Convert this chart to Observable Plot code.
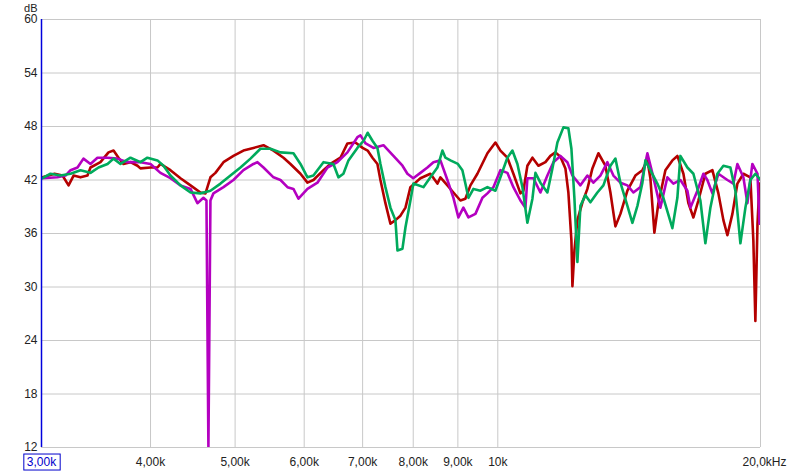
<!DOCTYPE html>
<html>
<head>
<meta charset="utf-8">
<script src="https://cdn.jsdelivr.net/npm/d3@7"></script>
<script src="https://cdn.jsdelivr.net/npm/@observablehq/plot@0.6"></script>
<style>
  html, body { margin: 0; padding: 0; background: #fff; }
  #chart { width: 800px; height: 475px; }
</style>
</head>
<body>
<div id="chart"></div>
<script>
// Frequency ticks (Hz) and their labels
const xTicks = [3000, 4000, 5000, 6000, 7000, 8000, 9000, 10000, 20000];
const xLabels = ["3,00k", "4,00k", "5,00k", "6,00k", "7,00k", "8,00k", "9,00k", "10k", "20,0kHz"];
const yTicks = [12, 18, 24, 30, 36, 42, 48, 54, 60];

// Series: [frequency Hz, level dB]
const red = [
  [3008,42.3],[3105,42.7],[3171,42.5],[3222,41.4],[3265,42.5],[3325,42.3],[3387,42.5],[3414,43.4],
  [3505,44.0],[3580,45.1],[3628,45.3],[3676,44.5],[3724,43.8],[3794,44.0],[3865,43.6],[3895,43.3],
  [4000,43.4],[4074,43.4],[4106,43.8],[4216,43.1],[4329,42.2],[4445,41.4],[4563,40.6],[4624,40.5],
  [4685,42.3],[4747,42.8],[4849,44.0],[4978,44.7],[5111,45.3],[5248,45.6],[5389,45.9],[5533,45.3],
  [5681,44.5],[5786,43.8],[5941,42.7],[6052,41.7],[6148,42.0],[6313,43.1],[6430,43.8],[6602,44.5],
  [6725,46.1],[6868,46.2],[7000,45.6],[7093,45.3],[7184,44.5],[7279,43.8],[7337,42.0],[7434,39.4],
  [7533,37.1],[7633,37.5],[7735,38.0],[7838,38.9],[7941,41.2],[8153,42.2],[8371,42.7],[8527,41.6],
  [8595,42.3],[8755,41.4],[8895,40.6],[9060,39.7],[9180,39.9],[9303,41.4],[9476,42.7],[9730,45.0],
  [9937,46.2],[10069,45.3],[10256,44.5],[10420,42.7],[10615,40.5],[10699,40.8],[10812,43.6],[10957,44.5],
  [11131,43.6],[11339,44.0],[11489,44.7],[11642,45.1],[11796,44.6],[11953,43.3],[12047,40.6],[12144,35.2],
  [12176,30.1],[12241,34.1],[12337,37.5],[12502,39.5],[12667,41.0],[12835,43.3],[13040,45.0],[13283,43.6],
  [13460,40.6],[13639,36.8],[13820,38.2],[14077,40.8],[14377,42.5],[14646,43.1],[14840,44.2],[14957,42.2],
  [15116,36.1],[15276,39.4],[15561,43.1],[15851,44.2],[16061,44.7],[16319,42.7],[16535,39.4],[16755,37.8],
  [16976,39.7],[17293,42.7],[17616,43.1],[17897,40.5],[18135,37.5],[18327,35.8],[18571,38.2],[18817,41.6],
  [19118,42.7],[19472,42.3],[19627,35.2],[19731,26.2],[19842,37.1],[19947,41.6],[20000,40.0]
];

const green = [
  [3008,42.2],[3072,42.7],[3154,42.5],[3239,42.7],[3325,43.1],[3414,42.8],[3487,43.4],[3571,43.8],
  [3628,44.4],[3695,43.8],[3794,44.5],[3895,44.0],[3967,44.5],[4074,44.2],[4139,43.6],[4216,42.5],
  [4329,41.4],[4445,40.6],[4563,40.5],[4685,40.8],[4811,41.6],[4939,42.5],[5071,43.4],[5207,44.4],
  [5346,45.5],[5489,45.5],[5636,45.1],[5832,45.0],[5941,43.8],[6052,42.3],[6148,42.5],[6313,44.0],
  [6481,43.8],[6567,42.3],[6654,42.7],[6743,44.2],[6904,45.6],[7018,46.4],[7093,47.3],[7184,46.4],
  [7279,45.6],[7337,43.8],[7434,41.2],[7533,38.9],[7633,37.5],[7674,34.1],[7776,34.3],[7838,36.7],
  [7941,39.7],[8004,41.6],[8218,41.2],[8371,42.3],[8527,43.4],[8640,45.3],[8709,44.5],[8825,44.2],
  [9000,43.8],[9108,43.1],[9180,41.6],[9254,40.0],[9377,41.0],[9552,40.8],[9730,41.2],[9937,40.8],
  [10069,42.3],[10256,44.5],[10393,45.3],[10531,43.8],[10671,41.2],[10812,37.2],[10957,39.9],[11044,42.8],
  [11190,41.7],[11398,40.6],[11550,43.3],[11703,46.2],[11890,47.9],[12047,47.8],[12144,45.5],[12241,39.9],
  [12337,32.8],[12436,39.1],[12601,40.3],[12768,39.5],[13005,40.6],[13213,41.4],[13460,43.6],[13639,44.4],
  [13820,41.7],[14077,39.1],[14264,37.2],[14454,39.1],[14646,41.7],[14762,44.2],[14957,43.1],[15235,41.6],
  [15479,40.0],[15851,36.6],[16061,40.0],[16190,44.7],[16491,43.4],[16755,42.7],[17066,39.7],[17293,34.9],
  [17523,38.9],[17849,42.7],[18135,43.6],[18473,43.4],[18718,40.8],[18967,34.9],[19219,38.9],[19472,42.0],
  [19731,42.7],[20000,42.0]
];

const purple = [
  [3008,42.2],[3129,42.3],[3196,42.5],[3239,43.1],[3299,43.4],[3351,44.4],[3414,43.8],[3477,44.5],
  [3571,44.5],[3666,44.4],[3764,44.0],[3895,44.0],[4000,43.8],[4106,42.8],[4216,42.2],[4329,41.4],
  [4445,41.0],[4527,39.4],[4599,40.0],[4636,39.7],[4660,12.0],[4685,39.7],[4722,40.5],[4849,41.2],
  [4978,42.0],[5111,43.1],[5248,43.8],[5304,44.0],[5389,43.4],[5533,42.3],[5636,42.0],[5741,41.2],
  [5832,41.0],[5910,39.9],[6052,41.0],[6213,41.7],[6380,43.4],[6550,44.0],[6725,45.1],[6904,46.8],
  [6960,47.0],[7056,46.1],[7203,45.6],[7395,45.9],[7593,44.7],[7776,43.6],[7878,42.7],[8000,42.2],
  [8153,42.8],[8305,43.4],[8438,44.0],[8595,44.2],[8755,42.0],[8895,40.0],[9012,37.8],[9132,38.9],
  [9254,37.8],[9427,38.2],[9603,40.0],[9730,40.5],[9885,41.2],[10069,43.1],[10256,42.8],[10420,41.2],
  [10615,39.7],[10756,38.9],[10812,42.2],[10986,42.2],[11190,40.6],[11398,42.5],[11580,44.0],[11796,44.7],
  [12015,44.0],[12176,42.5],[12436,41.4],[12667,42.5],[12870,41.7],[13109,42.5],[13353,44.0],[13567,42.5],
  [13820,41.7],[14077,41.4],[14302,40.6],[14569,41.2],[14840,45.0],[15076,42.3],[15357,38.9],[15643,42.3],
  [15893,41.6],[16190,42.0],[16491,40.8],[16623,38.9],[16932,40.8],[17202,42.7],[17383,42.0],[17616,40.5],
  [17897,42.7],[18327,42.0],[18620,41.6],[18817,43.8],[19118,42.3],[19321,39.4],[19575,43.8],[19842,42.7],
  [19947,37.1],[20000,37.5]
];

const seriesNames = ["red", "purple", "green"];
const seriesColors = ["#b40000", "#b400c0", "#00aa5c"];
const seriesData = [red, purple, green];

const grid = "#c8c8c8";
const fmt = d => xLabels[xTicks.indexOf(d)];

const chart = Plot.plot({
  width: 800,
  height: 475,
  marginLeft: 41,
  marginRight: 40,
  marginTop: 19,
  marginBottom: 28,
  style: { fontFamily: "Liberation Sans, Arial, sans-serif", fontSize: "12px", background: "#fff", color: "#222" },
  x: { type: "log", domain: [3000, 20000] },
  y: { domain: [12, 60] },
  marks: [
    Plot.gridX(xTicks, { stroke: grid, strokeOpacity: 1 }),
    Plot.gridY(yTicks, { stroke: grid, strokeOpacity: 1 }),
    Plot.axisY(yTicks, { tickSize: 0, tickPadding: 4, label: null, fill: "#222" }),
    Plot.text(["dB"], { frameAnchor: "top-left", dx: -4, dy: -8, lineAnchor: "bottom", textAnchor: "end", fontSize: 11, fill: "#222" }),
    Plot.axisX(xTicks.slice(1, -1), { tickSize: 0, tickPadding: 10, tickFormat: fmt, label: null, fill: "#222" }),
    Plot.axisX([20000], { tickSize: 0, tickPadding: 10, tickFormat: fmt, label: null, textAnchor: "start", dx: -18, fill: "#222" }),
    Plot.axisX([3000], { tickSize: 0, tickPadding: 10, tickFormat: fmt, label: null, fill: "#0000cc", className: "first-tick" }),
    ...seriesData.map((s, i) => Plot.line(s, {
      x: d => d[0], y: d => d[1], stroke: seriesColors[i], strokeWidth: 2.6, clip: true
    })),
    Plot.ruleX([3000], { stroke: "#0000dd", strokeWidth: 1.5 })
  ]
});

document.getElementById("chart").appendChild(chart);

// Blue box around the "3,00k" start label
const firstText = Array.from(chart.querySelectorAll("text")).find(t => t.textContent === "3,00k");
if (firstText) {
  const bb = firstText.getBBox();
  const rect = document.createElementNS("http://www.w3.org/2000/svg", "rect");
  rect.setAttribute("x", bb.x - 3);
  rect.setAttribute("y", bb.y - 1);
  rect.setAttribute("width", bb.width + 6);
  rect.setAttribute("height", bb.height + 2);
  rect.setAttribute("fill", "none");
  rect.setAttribute("stroke", "#0000cc");
  rect.setAttribute("stroke-width", 1);
  const tr = firstText.getAttribute("transform");
  if (tr) rect.setAttribute("transform", tr);
  firstText.parentNode.insertBefore(rect, firstText);
}
</script>
</body>
</html>
